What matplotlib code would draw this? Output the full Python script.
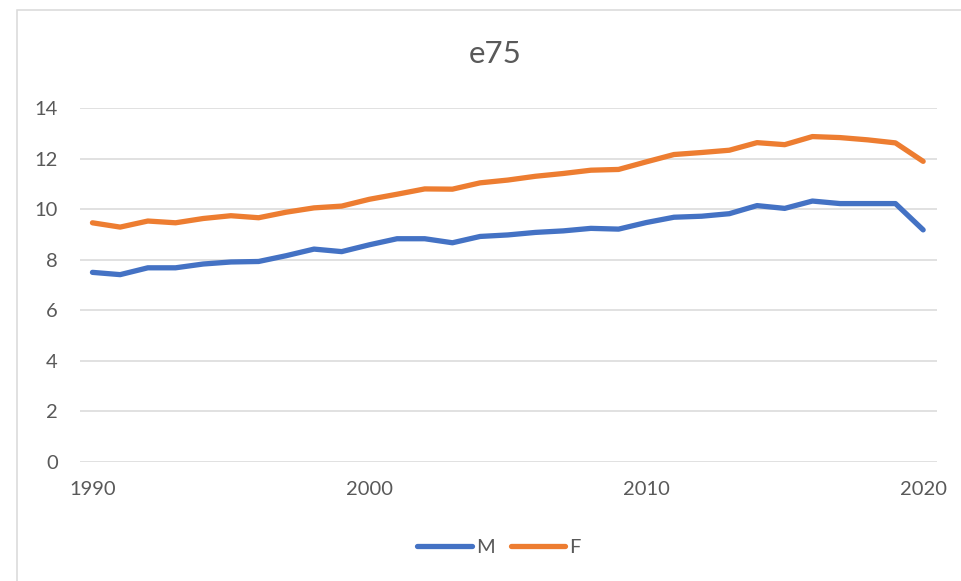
import numpy as np
import matplotlib
matplotlib.use("Agg")
import matplotlib.pyplot as plt
from matplotlib.patches import Rectangle

years = list(range(1990, 2021))
male = [7.50, 7.41, 7.68, 7.68, 7.83, 7.91, 7.93, 8.16, 8.42, 8.32,
        8.59, 8.83, 8.83, 8.67, 8.92, 8.98, 9.08, 9.14, 9.24, 9.21,
        9.47, 9.68, 9.72, 9.82, 10.14, 10.03, 10.32, 10.22, 10.22, 10.22,
        9.18]
female = [9.46, 9.29, 9.53, 9.46, 9.63, 9.74, 9.66, 9.88, 10.05, 10.12,
          10.39, 10.59, 10.80, 10.79, 11.04, 11.15, 11.30, 11.41, 11.54, 11.57,
          11.87, 12.16, 12.24, 12.33, 12.63, 12.55, 12.87, 12.83, 12.74, 12.62,
          11.89]
yticks = [0, 2, 4, 6, 8, 10, 12, 14]
xticks = [1990, 2000, 2010, 2020]

plt.rcParams["font.family"] = ["Lato", "DejaVu Sans"]
TXT = "#595959"
W, H = 961, 581

fig = plt.figure(figsize=(W / 100, H / 100), dpi=100)
# chart-area border (only left/top edges fall inside the image)
fig.patches.append(Rectangle((16.5 / W, -0.1), 1.2, 1 - 9.5 / H + 0.1, transform=fig.transFigure,
                             fill=False, edgecolor="#d9d9d9", lw=1.1))
ax = fig.add_axes([80 / W, 119 / H, 857 / W, 354 / H])

ax.plot(years, male, color="#4472C4", lw=3.8, solid_capstyle="round", solid_joinstyle="round", label="M")
ax.plot(years, female, color="#ED7D31", lw=3.8, solid_capstyle="round", solid_joinstyle="round", label="F")

ax.set_xlim(1989.55, 2020.5)
ax.set_ylim(0, 14)
ax.set_yticks(yticks)
ax.set_xticks(xticks)
ax.yaxis.grid(True, color="#d9d9d9", lw=1.1)
ax.set_axisbelow(True)
for s in ax.spines.values():
    s.set_visible(False)
ax.tick_params(axis="both", length=0, labelsize=14.5, colors=TXT)
ax.tick_params(axis="y", pad=16)
ax.tick_params(axis="x", pad=14)

fig.text(495 / W, 1 - 54 / H, "e75", ha="center", va="center", fontsize=22.5, color=TXT)

fig.legend(loc="center", bbox_to_anchor=(499 / W, 1 - 547 / H), ncol=2, frameon=False,
           fontsize=14.5, labelcolor=TXT, handlelength=2.7, handletextpad=0.2, columnspacing=0.8)

fig.savefig("out.png", dpi=100)
